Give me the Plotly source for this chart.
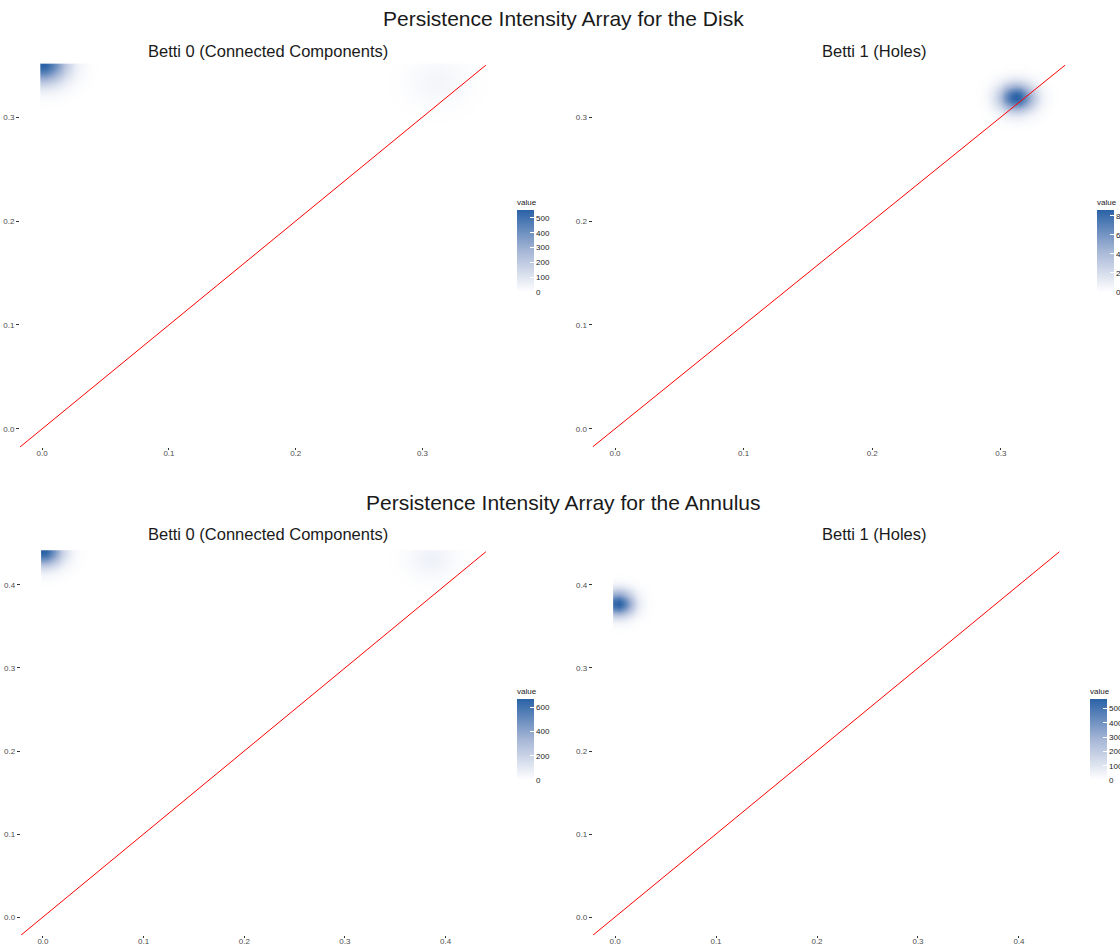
import numpy as np
import plotly.graph_objects as go

# ---- data (persistence points: birth, death, peak intensity, spread) ----
disk_b0_birth = [0.0, 0.312]
disk_b0_death = [0.352, 0.334]
disk_b0_peak = [560, 35]
disk_b0_sigma = [0.013, 0.016]
disk_max = 0.35

disk_b1_birth = [0.312]
disk_b1_death = [0.319]
disk_b1_peak = [870]
disk_b1_sigma = [0.0095]

ann_b0_birth = [0.0, 0.385]
ann_b0_death = [0.442, 0.433]
ann_b0_peak = [675, 60]
ann_b0_sigma = [0.013, 0.016]
ann_max = 0.44

ann_b1_birth = [0.003]
ann_b1_death = [0.378]
ann_b1_peak = [570]
ann_b1_sigma = [0.0105]

cbar_dtick = [100, 200, 200, 100]

titles_main = ["Persistence Intensity Array for the Disk",
               "Persistence Intensity Array for the Annulus"]
titles_sub = ["Betti 0 (Connected Components)", "Betti 1 (Holes)"]

N = 120


def intensity(births, deaths, peaks, sigmas, vmax):
    g = np.linspace(0, vmax, N)
    X, Y = np.meshgrid(g, g)
    Z = np.zeros_like(X)
    for b, d, p, s in zip(births, deaths, peaks, sigmas):
        Z += p * np.exp(-((X - b) ** 2 + (Y - d) ** 2) / (2 * s * s))
    return g, Z


W, H = 1120, 949
panels = [
    dict(data=(disk_b0_birth, disk_b0_death, disk_b0_peak, disk_b0_sigma), vmax=disk_max,
         xpx=(20, 508), ypx=(47, 447), cbx=517, cby=(196, 292)),
    dict(data=(disk_b1_birth, disk_b1_death, disk_b1_peak, disk_b1_sigma), vmax=disk_max,
         xpx=(592.5, 1087.6), ypx=(47, 447), cbx=1097, cby=(196, 292)),
    dict(data=(ann_b0_birth, ann_b0_death, ann_b0_peak, ann_b0_sigma), vmax=ann_max,
         xpx=(20.8, 508), ypx=(533.5, 935.3), cbx=517, cby=(685, 780)),
    dict(data=(ann_b1_birth, ann_b1_death, ann_b1_peak, ann_b1_sigma), vmax=ann_max,
         xpx=(592.8, 1081.6), ypx=(533.5, 935.3), cbx=1090, cby=(685, 780)),
]

colorscale = [[0, "#ffffff"], [0.5, "#a6b6d6"], [1, "#2a62a6"]]
font_fam = "Helvetica, Arial, 'Liberation Sans', sans-serif"

fig = go.Figure()
layout = dict(
    width=W, height=H, margin=dict(l=0, r=0, t=0, b=0, autoexpand=False),
    paper_bgcolor="white", plot_bgcolor="white", showlegend=False,
    font=dict(family=font_fam, color="#1a1a1a"),
)

for i, p in enumerate(panels):
    k = i + 1
    xs = "" if k == 1 else str(k)
    g, Z = intensity(*p["data"], p["vmax"])
    exp = 0.05 * p["vmax"]
    fig.add_trace(go.Heatmap(
        x=g, y=g, z=Z, xaxis="x" + xs, yaxis="y" + xs, zsmooth="best",
        coloraxis="coloraxis" + xs, hoverinfo="skip",
    ))
    fig.add_trace(go.Scatter(
        x=[-exp, p["vmax"]], y=[-exp, p["vmax"]], mode="lines",
        line=dict(color="#ff0000", width=1), xaxis="x" + xs, yaxis="y" + xs,
        hoverinfo="skip",
    ))
    ax = dict(range=[-exp, p["vmax"] + exp], showgrid=False, zeroline=False,
              showline=False, ticks="outside", ticklen=3, tickwidth=1,
              tickcolor="#333333", tickfont=dict(size=8, color="#4d4d4d"),
              tickmode="linear", tick0=0, dtick=0.1, tickformat=".1f")
    layout["xaxis" + xs] = dict(ax, domain=[p["xpx"][0] / W, p["xpx"][1] / W],
                                anchor="y" + xs, ticklen=2, ticklabelstandoff=-4)
    layout["yaxis" + xs] = dict(ax, domain=[1 - p["ypx"][1] / H, 1 - p["ypx"][0] / H],
                                anchor="x" + xs)
    cb_len = p["cby"][1] - p["cby"][0]
    layout["coloraxis" + xs] = dict(
        colorscale=colorscale, cmin=0,
        colorbar=dict(
            title=dict(text="value", side="top", font=dict(size=8)),
            x=p["cbx"] / W, xanchor="left", y=1 - (p["cby"][0] + p["cby"][1]) / 2 / H,
            yanchor="middle", len=cb_len, lenmode="pixels", thickness=17,
            thicknessmode="pixels", xpad=0, ypad=0, outlinewidth=0,
            ticks="inside", ticklen=4, tickcolor="white", tickwidth=1,
            tickmode="linear", tick0=0, dtick=cbar_dtick[i],
            tickfont=dict(size=8, color="#1a1a1a"),
        ),
    )

annotations = []
for j, t in enumerate(titles_main):
    ypx = [19, 502][j]
    annotations.append(dict(text=t, x=563 / W, y=1 - ypx / H, xref="paper", yref="paper",
                            showarrow=False, xanchor="center", yanchor="middle",
                            font=dict(size=21, color="#1a1a1a")))
    for c, st in enumerate(titles_sub):
        sx = [268, 874][c]
        sy = [51, 534][j]
        annotations.append(dict(text=st, x=sx / W, y=1 - sy / H, xref="paper", yref="paper",
                                showarrow=False, xanchor="center", yanchor="middle",
                                font=dict(size=16.5, color="#1a1a1a")))
layout["annotations"] = annotations
fig.update_layout(**layout)
fig.write_html("out.html", config={"displayModeBar": False},
               post_script="document.body.style.margin='0';")
